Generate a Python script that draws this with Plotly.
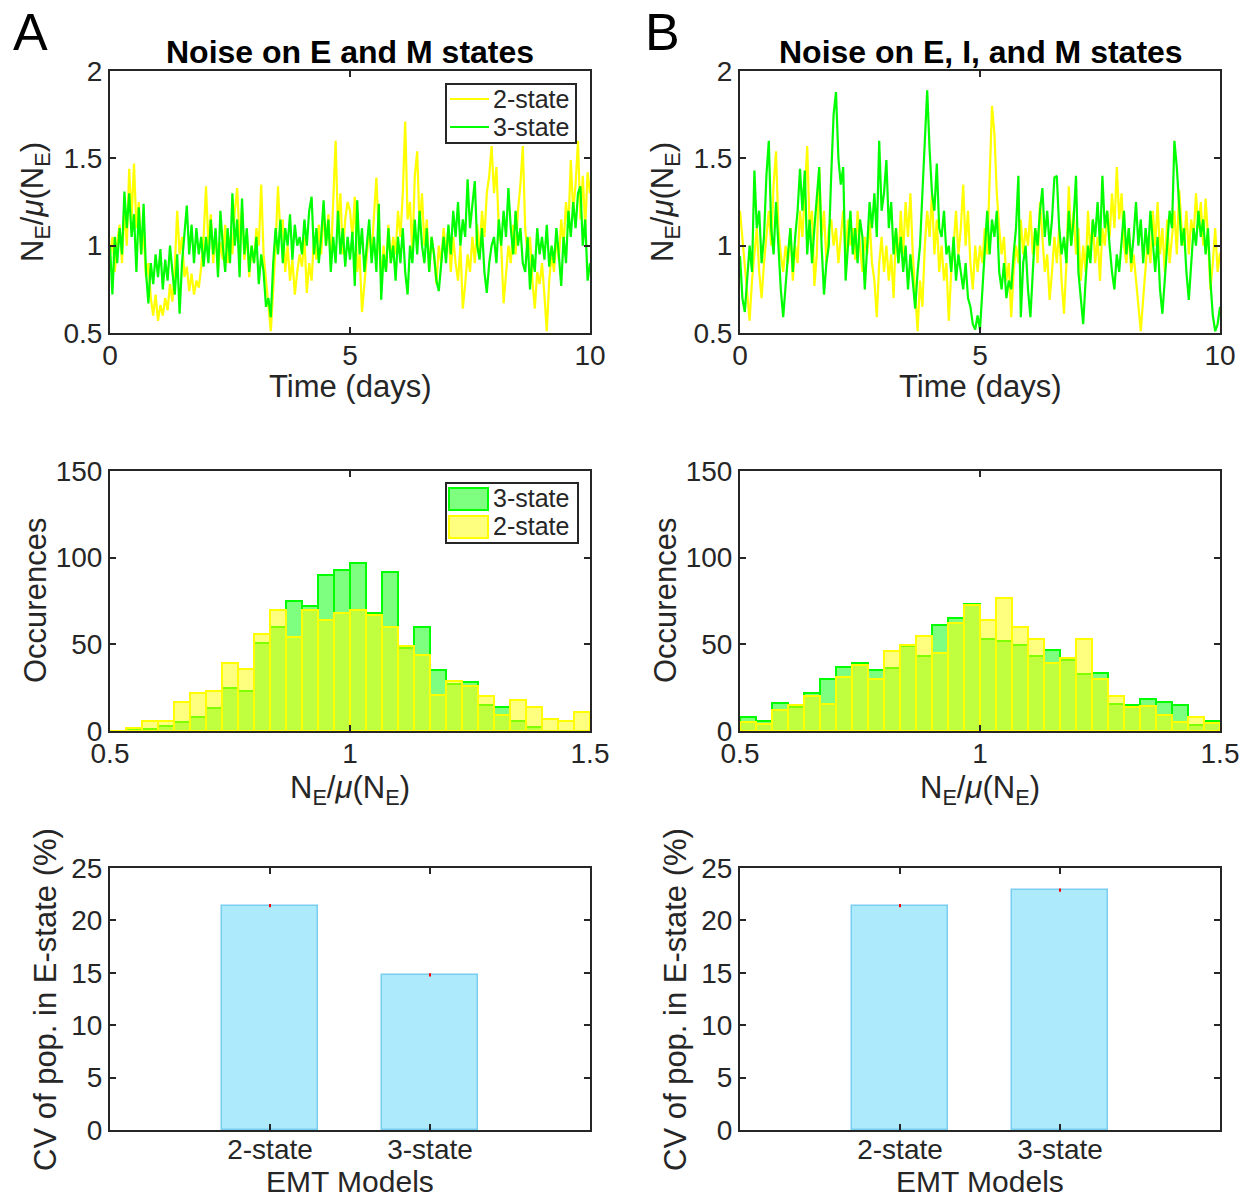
import plotly.graph_objects as go

W, H = 1250, 1197

# ---------------- data ----------------
t_days = [round(i * 0.05, 2) for i in range(201)]

ts_A_2state = [
    0.95, 1.05, 0.85, 1.02, 1.12, 0.9, 1.22, 1.0, 1.44, 1.15, 1.47, 1.1, 1.25, 0.95, 1.08, 0.82, 0.9, 0.7, 0.6, 0.72,
    0.57, 0.66, 0.6, 0.7, 0.63, 0.78, 0.68, 0.88, 1.2, 0.95, 1.05, 0.82, 0.88, 0.74, 0.84, 0.72, 0.8, 0.76, 0.88, 1.05,
    1.34, 1.0, 1.18, 0.9, 1.08, 0.86, 1.02, 0.92, 1.12, 0.9, 1.05, 0.95, 1.2, 1.33, 1.02, 1.22, 0.92, 1.08, 0.82, 1.0,
    0.9, 1.1, 1.0, 1.35, 0.95, 0.8, 0.62, 0.51, 0.75, 1.0, 1.34, 1.05, 1.15, 0.85, 1.0, 0.8, 0.92, 0.72, 0.85, 0.95,
    0.88, 1.05, 0.73, 0.9, 0.8, 1.05, 0.92, 1.12, 0.95, 1.2, 1.0, 1.18, 0.9, 1.25, 1.6, 1.1, 1.3, 0.95, 1.15, 1.25,
    1.2, 1.05, 1.28, 0.85, 0.95, 0.62, 0.78, 0.9, 1.1, 0.95, 1.2, 1.39, 1.05, 0.8, 1.0, 0.85, 1.12, 0.9, 1.05, 0.95,
    1.2, 1.05, 1.3, 1.71, 1.15, 1.25, 0.95, 1.4, 1.54, 1.1, 1.3, 1.0, 1.15, 0.85, 1.05, 0.95, 0.78, 1.0, 0.9, 1.1,
    0.95, 1.1, 0.85, 1.05, 0.9, 0.8, 1.0, 0.64, 0.78, 0.95, 0.85, 1.05, 0.9, 1.12, 0.95, 1.2, 1.05, 1.3, 1.4, 1.57,
    1.3, 1.45, 1.1, 1.0, 0.67, 0.85, 1.0, 0.9, 1.12, 0.95, 1.2, 1.35, 1.57, 1.1, 0.95, 1.05, 0.8, 0.64, 0.85, 0.78,
    0.9, 0.72, 0.51, 0.8, 0.95, 0.85, 1.05, 0.92, 1.15, 1.0, 1.25, 1.1, 1.49, 1.2, 1.35, 1.6, 1.15, 1.4, 1.1, 1.42,
    1.3,
]
ts_A_3state = [
    1.0, 0.72, 1.05, 0.9, 1.1, 0.95, 1.31, 1.1, 1.3, 1.05, 1.18, 0.85, 1.22, 0.95, 1.24, 0.85, 0.67, 0.9, 0.78, 0.95,
    0.82, 0.98, 0.75, 0.92, 0.8, 1.0, 0.85, 0.72, 0.95, 0.61, 0.9, 1.05, 1.23, 0.95, 1.12, 0.9, 1.1, 0.95, 1.05, 0.88,
    1.05, 0.9, 1.15, 0.95, 1.1, 0.82, 1.2, 1.0, 0.85, 1.1, 0.9, 1.3, 1.0, 1.15, 0.82, 1.27, 0.95, 1.1, 0.85, 1.0,
    0.9, 1.05, 0.78, 0.95, 0.85, 0.65, 0.7, 0.59, 0.9, 1.1, 0.95, 1.15, 0.9, 1.1, 1.0, 1.18, 0.92, 1.12, 1.0, 1.05,
    0.95, 1.15, 1.0, 1.2, 1.28, 0.95, 1.1, 0.9, 1.05, 1.26, 1.0, 1.15, 0.85, 1.05, 0.9, 1.2, 0.95, 1.1, 0.88, 1.05,
    0.92, 1.08, 0.77, 1.26, 0.95, 1.1, 0.85, 1.0, 1.15, 0.9, 1.05, 0.85, 1.24, 0.69, 0.95, 0.85, 1.1, 0.9, 1.0, 0.8,
    1.05, 0.9, 1.1, 0.85, 0.72, 1.0, 0.9, 1.15, 0.95, 1.2, 1.0, 0.9, 1.1, 0.85, 1.05, 0.95, 0.8, 0.74, 0.92, 1.05,
    0.9, 1.12, 0.95, 1.2, 1.05, 1.25, 1.0, 1.15, 1.05, 1.38, 1.1, 1.25, 1.37, 1.0, 0.92, 1.1, 0.85, 0.73, 0.9, 1.0,
    1.05, 0.9, 1.15, 1.0, 1.2, 1.05, 1.33, 1.1, 0.95, 1.2, 1.0, 1.1, 0.9, 0.85, 1.05, 0.75, 0.95, 0.85, 1.1, 0.95,
    1.05, 0.92, 1.12, 0.88, 1.0, 0.9, 1.1, 0.95, 0.77, 1.05, 0.9, 1.2, 1.05, 1.25, 1.1, 1.3, 1.34, 1.0, 1.15, 0.8,
    0.9,
]
ts_B_2state = [
    1.2, 1.05, 0.9, 0.75, 0.57, 0.8, 0.95, 1.1, 0.85, 0.7, 0.9, 1.05, 1.2, 1.0, 1.35, 1.54, 1.1, 0.95, 0.85, 1.0,
    0.9, 1.1, 0.8, 1.0, 0.9, 1.2, 1.05, 1.3, 1.57, 1.1, 1.2, 0.77, 0.95, 1.45, 1.05, 1.2, 0.9, 1.1, 1.15, 1.0,
    1.1, 0.9, 1.05, 1.2, 0.95, 1.15, 1.0, 1.1, 0.92, 1.2, 1.0, 0.85, 1.05, 0.95, 1.15, 0.9, 0.8, 0.59, 0.9, 1.05,
    0.85, 1.0, 0.8, 0.95, 0.7, 1.1, 0.9, 1.2, 0.95, 1.25, 1.05, 1.3, 0.95, 0.7, 0.51, 0.8, 0.65, 1.0, 1.2, 1.05,
    1.3, 0.95, 1.15, 0.85, 1.0, 0.8, 0.9, 0.57, 0.85, 1.0, 1.2, 0.95, 1.1, 1.35, 1.0, 1.2, 0.9, 0.75, 1.0, 0.85,
    1.0, 0.9, 1.1, 0.95, 1.4, 1.8, 1.64, 1.3, 1.1, 0.95, 1.05, 0.8, 0.9, 0.59, 0.85, 1.0, 0.9, 1.15, 0.95, 1.1,
    1.0, 1.2, 0.95, 1.1, 0.9, 1.25, 1.05, 0.85, 0.95, 0.69, 0.85, 1.05, 0.9, 1.1, 0.8, 0.61, 0.9, 1.34, 1.0, 1.2,
    0.95, 1.1, 0.8, 1.0, 0.85, 1.2, 0.95, 1.15, 0.9, 1.05, 0.8, 1.1, 1.0, 1.2, 1.05, 1.3, 1.1, 1.45, 1.15, 1.3,
    1.0, 0.9, 1.1, 0.85, 0.95, 0.8, 0.65, 0.51, 0.7, 0.9, 1.05, 0.9, 1.2, 1.0, 1.25, 0.95, 1.1, 0.85, 1.15, 0.9,
    1.05, 1.2, 0.95, 1.32, 1.1, 1.0, 1.2, 0.95, 1.15, 1.05, 1.3, 1.1, 1.25, 1.0, 1.27, 1.05, 0.75, 0.9, 1.1, 0.85,
    0.96,
]
ts_B_3state = [
    0.94, 0.7, 0.62, 0.8, 1.0, 0.85, 1.43, 1.1, 1.2, 0.9, 1.05, 1.4, 1.6, 1.1, 0.95, 1.25, 1.0, 0.75, 0.59, 0.8,
    0.95, 1.1, 0.85, 1.05, 1.2, 1.44, 1.2, 1.43, 0.95, 1.15, 0.9, 1.1, 1.3, 1.45, 1.0, 0.72, 0.9, 1.0, 1.4, 1.75,
    1.88, 1.5, 1.35, 1.45, 0.8, 1.0, 1.2, 0.95, 1.1, 0.9, 1.15, 1.05, 0.75, 1.0, 1.25, 1.1, 1.3, 1.05, 1.6, 1.2,
    1.3, 1.49, 1.1, 1.25, 0.95, 1.1, 0.9, 1.05, 0.85, 1.0, 0.75, 0.95, 0.8, 0.64, 0.85, 1.0, 1.3, 1.62, 1.89, 1.55,
    1.3, 1.2, 1.47, 1.1, 1.05, 1.2, 0.95, 1.0, 0.85, 1.05, 0.8, 0.95, 0.85, 0.75, 0.9, 0.7, 0.65, 0.55, 0.52, 0.6,
    0.52, 0.75, 1.0, 1.2, 0.95, 1.15, 1.05, 1.2, 0.85, 0.75, 0.9, 0.7, 0.8, 0.75, 0.95, 1.1, 1.4, 0.59, 0.9, 1.0,
    0.75, 0.59, 0.85, 1.1, 1.0, 1.2, 1.33, 1.05, 1.2, 1.0, 1.15, 1.39, 1.4, 1.1, 0.95, 1.05, 0.9, 1.2, 1.0, 1.15,
    1.4, 0.85, 0.7, 0.55, 0.8, 1.0, 0.9, 1.15, 1.05, 1.25, 1.0, 1.4, 1.1, 1.2, 1.0, 0.85, 0.75, 0.95, 0.85, 1.05,
    1.2, 0.95, 1.1, 0.9, 1.05, 1.25, 1.0, 1.15, 0.9, 1.1, 0.95, 1.2, 1.0, 0.85, 1.05, 0.75, 0.61, 0.8, 1.0, 1.2,
    1.1, 1.6, 1.45, 1.2, 1.0, 1.1, 0.85, 0.69, 0.9, 1.1, 1.0, 1.2, 1.05, 1.15, 0.95, 1.1, 0.8, 0.6, 0.51, 0.55,
    0.65,
]

# histogram bin edges start at 0.5, width 1/30
bin_width = 1 / 30
bin_centers = [0.5 + bin_width * (k + 0.5) for k in range(30)]

hist_A_3state = [0, 1, 1, 3, 5, 8, 13, 25, 23, 51, 60, 75, 72, 90, 93, 97, 68, 92, 48, 60,
                 35, 27, 28, 15, 14, 6, 2.5, 0, 0, 0]
hist_A_2state = [0, 2, 6, 6, 17, 22, 23, 39, 36, 56, 70, 54, 70, 64, 68, 70, 67, 60, 49, 44,
                 21, 29, 26, 20, 9, 18, 14, 7, 6, 11]
hist_B_3state = [8, 6, 16, 14, 22, 30, 37, 39, 35, 36.5, 49, 43, 61, 65, 73, 53, 52, 49.5, 43, 47,
                 41, 33, 33.5, 15.5, 15, 18.5, 17, 15, 3.5, 6]
hist_B_2state = [5, 4, 12, 15, 20, 15.5, 31, 38, 30, 46, 49.5, 55, 45, 62.5, 72.5, 64, 77, 60, 53, 39.5,
                 42, 53, 30, 20, 14, 14.5, 9, 5, 8, 4.5]

models = ["2-state", "3-state"]
model_pos = [1, 2]
cv_A = [21.4, 14.8]
cv_B = [21.4, 22.9]
cv_err = [0.06, 0.06]

# ---------------- styling ----------------
FONT = "Liberation Sans, Arial, Helvetica, sans-serif"
TXT = "#262626"
YEL = "rgb(255,255,0)"
GRN = "rgb(0,255,0)"
YEL_FILL = "rgba(255,255,0,0.5)"
GRN_FILL = "rgba(0,255,0,0.5)"
NE_LABEL = "N<sub>E</sub>/<i>μ</i>(N<sub>E</sub>)"
TICK_SIZE = 28
LABEL_SIZE = 31


def px(xp):
    return xp / W


def py(yp):
    return 1 - yp / H


fig = go.Figure()

colx = [(110, 590), (740, 1220)]
rowy = [(71, 333), (471, 731), (868, 1130)]

axis_common = dict(
    showline=True, linecolor=TXT, linewidth=2, mirror="ticks",
    ticks="inside", ticklen=6, tickwidth=1.5, tickcolor=TXT,
    showgrid=False, zeroline=False, automargin=False,
    tickfont=dict(family=FONT, size=TICK_SIZE, color=TXT),
)

layout_axes = {}
n = 0
for r in range(3):
    for c in range(2):
        n += 1
        xa = "xaxis" if n == 1 else f"xaxis{n}"
        ya = "yaxis" if n == 1 else f"yaxis{n}"
        xd = [px(colx[c][0]), px(colx[c][1])]
        yd = [py(rowy[r][1]), py(rowy[r][0])]
        anchor_x = "y" if n == 1 else f"y{n}"
        anchor_y = "x" if n == 1 else f"x{n}"
        layout_axes[xa] = dict(domain=xd, anchor=anchor_x, ticklabelstandoff=-4, **axis_common)
        layout_axes[ya] = dict(domain=yd, anchor=anchor_y, **axis_common)

for k in (1, 2):
    xa = "xaxis" if k == 1 else f"xaxis{k}"
    ya = "yaxis" if k == 1 else f"yaxis{k}"
    layout_axes[xa].update(range=[0, 10], tickvals=[0, 5, 10])
    layout_axes[ya].update(range=[0.5, 2], tickvals=[0.5, 1, 1.5, 2], ticktext=["0.5", "1", "1.5", "2"])
for k in (3, 4):
    layout_axes[f"xaxis{k}"].update(range=[0.5, 1.5], tickvals=[0.5, 1, 1.5], ticktext=["0.5", "1", "1.5"])
    layout_axes[f"yaxis{k}"].update(range=[0, 150], tickvals=[0, 50, 100, 150])
for k in (5, 6):
    layout_axes[f"xaxis{k}"].update(range=[0, 3], tickvals=model_pos, ticktext=models, ticklabelstandoff=-7)
    layout_axes[f"yaxis{k}"].update(range=[0, 25], tickvals=[0, 5, 10, 15, 20, 25])

# ---- time series ----
for k, (y2, y3) in enumerate([(ts_A_2state, ts_A_3state), (ts_B_2state, ts_B_3state)], start=1):
    xr = "x" if k == 1 else f"x{k}"
    yr = "y" if k == 1 else f"y{k}"
    fig.add_trace(go.Scatter(x=t_days, y=y2, mode="lines", line=dict(color=YEL, width=2.2),
                             name="2-state", xaxis=xr, yaxis=yr, showlegend=False))
    fig.add_trace(go.Scatter(x=t_days, y=y3, mode="lines", line=dict(color=GRN, width=2.2),
                             name="3-state", xaxis=xr, yaxis=yr, showlegend=False))

# ---- histograms ----
for k, (h3, h2) in zip((3, 4), [(hist_A_3state, hist_A_2state), (hist_B_3state, hist_B_2state)]):
    fig.add_trace(go.Bar(x=bin_centers, y=h3, width=bin_width, name="3-state",
                         marker=dict(color=GRN_FILL, line=dict(color=GRN, width=2)),
                         xaxis=f"x{k}", yaxis=f"y{k}", showlegend=False))
    fig.add_trace(go.Bar(x=bin_centers, y=h2, width=bin_width, name="2-state",
                         marker=dict(color=YEL_FILL, line=dict(color=YEL, width=2)),
                         xaxis=f"x{k}", yaxis=f"y{k}", showlegend=False))

# ---- bar charts ----
for k, vals in zip((5, 6), (cv_A, cv_B)):
    fig.add_trace(go.Bar(x=model_pos, y=vals, width=0.6,
                         marker=dict(color="rgb(173,234,251)", line=dict(color="rgb(120,205,240)", width=1.5)),
                         error_y=dict(type="data", array=cv_err, color="red", thickness=2, width=1),
                         xaxis=f"x{k}", yaxis=f"y{k}", showlegend=False))

annotations = []
shapes = []


def ann(text, xp, yp, size=LABEL_SIZE, angle=0, bold=False, xanchor="center", yanchor="middle", color=TXT):
    annotations.append(dict(
        text=f"<b>{text}</b>" if bold else text, x=px(xp), y=py(yp), xref="paper", yref="paper",
        showarrow=False, textangle=angle, xanchor=xanchor, yanchor=yanchor,
        font=dict(family=FONT, size=size, color=color)))


def rect(x0, y0, x1, y1, line_color, fill, lw=2):
    shapes.append(dict(type="rect", xref="paper", yref="paper", x0=px(x0), x1=px(x1), y0=py(y1), y1=py(y0),
                       line=dict(color=line_color, width=lw), fillcolor=fill, layer="above"))


def hline(x0, x1, yv, color, lw=2):
    shapes.append(dict(type="line", xref="paper", yref="paper", x0=px(x0), x1=px(x1), y0=py(yv), y1=py(yv),
                       line=dict(color=color, width=lw), layer="above"))


ann("A", 30, 32, size=52, color="black")
ann("B", 662, 32, size=52, color="black")
ann("Noise on E and M states", 350, 52, size=32, bold=True, color="black")
ann("Noise on E, I, and M states", 981, 52, size=32, bold=True, color="black")
for cx in (350, 980):
    ann("Time (days)", cx, 386)
    ann(NE_LABEL, cx, 790)
    ann("EMT Models", cx, 1181, size=30)
for lx in (35, 665):
    ann(NE_LABEL, lx, 202, angle=-90)
    ann("Occurences", lx, 601, angle=-90)
    ann("CV of pop. in E-state (%)", lx + 10, 1000, angle=-90)

# legend: time series (top-left)
rect(446, 84, 576, 143, TXT, "white", 2)
hline(450, 489, 99, YEL, 2.2)
hline(450, 489, 127, GRN, 2.2)
ann("2-state", 491, 99, size=25, xanchor="left")
ann("3-state", 491, 127, size=25, xanchor="left")

# legend: histogram (middle-left)
rect(446, 483, 578, 543, TXT, "white", 2)
rect(449, 488, 488, 510, GRN, GRN_FILL, 2)
rect(449, 516, 488, 538, YEL, YEL_FILL, 2)
ann("3-state", 491, 498, size=25, xanchor="left")
ann("2-state", 491, 526, size=25, xanchor="left")

fig.update_layout(
    width=W, height=H,
    margin=dict(l=0, r=0, t=0, b=0, pad=0, autoexpand=False),
    paper_bgcolor="white", plot_bgcolor="white",
    barmode="overlay", bargap=0,
    showlegend=False,
    annotations=annotations,
    shapes=shapes,
    **layout_axes,
)

fig.write_html("out.html")
